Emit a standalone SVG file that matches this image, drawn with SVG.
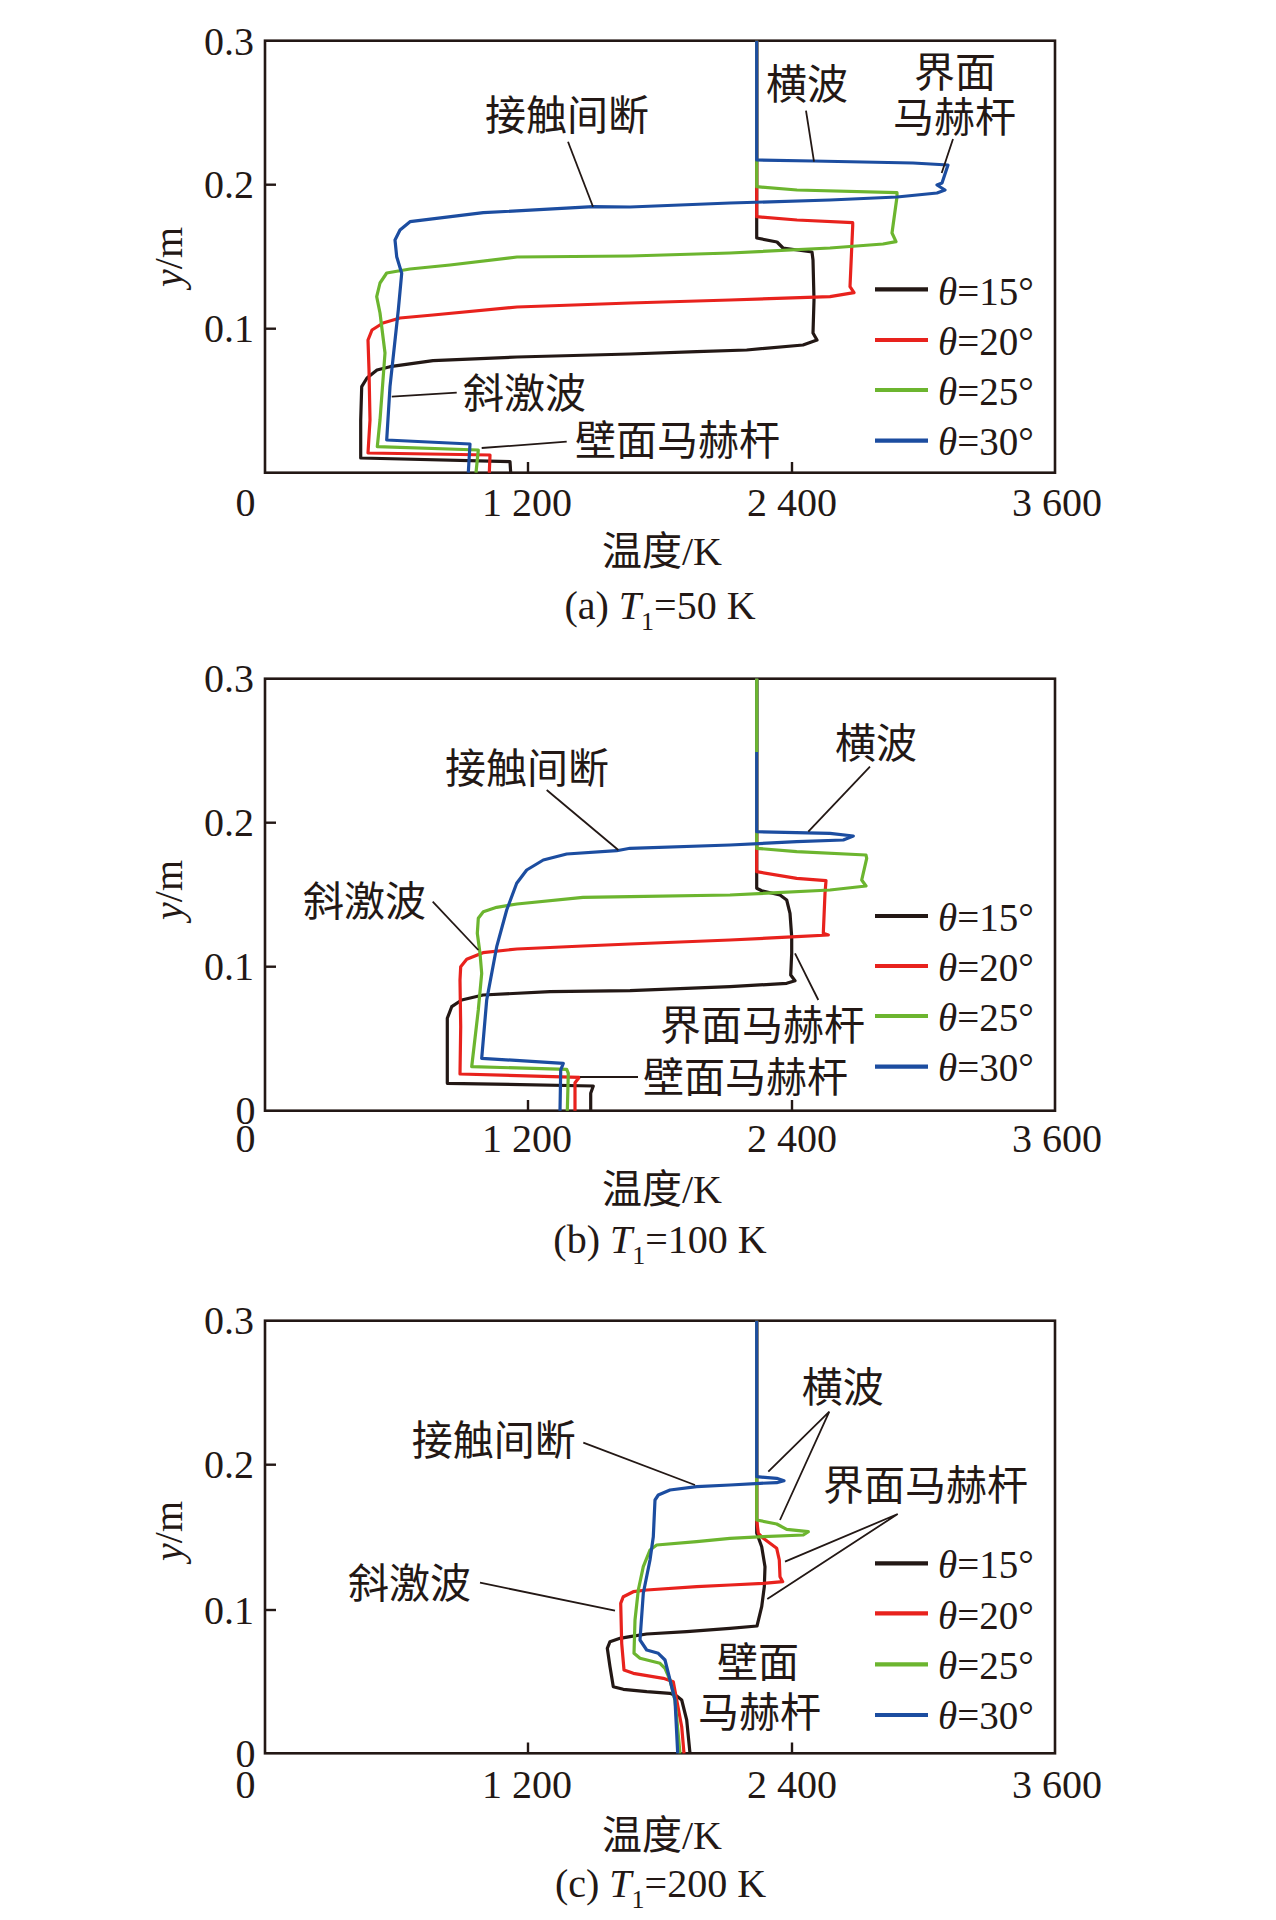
<svg xmlns="http://www.w3.org/2000/svg" width="1276" height="1920" viewBox="0 0 1276 1920">
<style>
.frame{fill:none;stroke:#231815;stroke-width:2.6}
.tick{stroke:#231815;stroke-width:2.4}
.c{fill:none;stroke-width:3.2;stroke-linejoin:round;stroke-linecap:butt}
.k{stroke:#231815}.r{stroke:#e8221d}.g{stroke:#6cb52f}.b{stroke:#1c4da0}
.lg{stroke-width:4.2}
.lead{fill:none;stroke:#231815;stroke-width:1.8}
.num{font-family:"Liberation Serif",serif;font-size:40px;fill:#231815}
.leg{font-family:"Liberation Serif",serif;font-size:39px;fill:#231815}
.cjk{font-family:"Noto Sans CJK SC",sans-serif;font-size:41px;fill:#231815}
.ax{font-family:"Liberation Serif","Noto Sans CJK SC",serif;font-size:40px;fill:#231815}
</style>
<rect width="1276" height="1920" fill="#ffffff"/>

<!-- ================= Panel (a) ================= -->
<g id="panel-a">
  <g id="a-axes">
    <rect class="frame" x="265" y="40.7" width="790" height="432"/>
    <line class="tick" x1="265" y1="184.7" x2="276" y2="184.7"/>
    <line class="tick" x1="265" y1="328.7" x2="276" y2="328.7"/>
    <line class="tick" x1="528" y1="472.7" x2="528" y2="462"/>
    <line class="tick" x1="792" y1="472.7" x2="792" y2="462"/>
    <text class="num" x="254" y="54.5" text-anchor="end">0.3</text>
    <text class="num" x="254" y="198.2" text-anchor="end">0.2</text>
    <text class="num" x="254" y="342.2" text-anchor="end">0.1</text>
    <text class="num" x="245.6" y="516" text-anchor="middle">0</text>
    <text class="num" x="527" y="516" text-anchor="middle">1 200</text>
    <text class="num" x="792" y="516" text-anchor="middle">2 400</text>
    <text class="num" x="1057" y="516" text-anchor="middle">3 600</text>
    <text class="ax" x="662" y="565" text-anchor="middle">温度/K</text>
    <text class="ax" transform="translate(182,257) rotate(-90)" text-anchor="middle"><tspan font-style="italic">y</tspan>/m</text>
    <text class="ax" x="660" y="619" text-anchor="middle">(a) <tspan font-style="italic">T</tspan><tspan font-size="26" dy="11">1</tspan><tspan dy="-11">=50 K</tspan></text>
  </g>
  <g id="a-curves">
    <polyline class="c k" points="756.7,40.7 756.7,238 777,242 783,248 812,252 813,260 814,300 813,333 817,340 803,345 746.7,350 696.7,351.7 630,354 517,357 433,360.7 390,366.7 377,370 367,378 361.7,386.7 360.7,420 360.7,458 510,461.7 510.7,472.7"/>
    <polyline class="c r" points="756.7,40.7 756.7,216.7 797,220 852.7,222.7 852.7,226 850,286.7 854,292.7 830,296.7 730,300 630,303 517,307 433,315 400,318 383,323 372,330 368,340 369,370 370,420 368,453 490,455 489.3,472.7"/>
    <polyline class="c g" points="756.7,40.7 756.7,186.7 797,190 897,192.7 897,196.7 892,233 896,241.7 883,244 830,248 730,253 630,256 517,257 450,265 410,269 386.7,273 380,283 376.7,296.7 380,313 385,353 380,420 377.3,446.7 478.3,450 476,472.7"/>
    <polyline class="c b" points="756.7,40.7 756.7,160 813,161 913,163 948,165 942,183 937,185 945,190 937,193 897,197 830,200 730,203 630,207 593,206.7 483.3,212.7 410,221.7 400,230 395,240 396.7,256.7 401.7,273.3 398.3,310 390,386.7 386.7,440 470,444 468.3,472.7"/>
  </g>
  <g id="a-legend">
    <line class="c k lg" x1="875" y1="289.3" x2="928" y2="289.3"/>
    <line class="c r lg" x1="875" y1="340" x2="928" y2="340"/>
    <line class="c g lg" x1="875" y1="390" x2="928" y2="390"/>
    <line class="c b lg" x1="875" y1="440.7" x2="928" y2="440.7"/>
    <text class="leg" x="938" y="305"><tspan font-style="italic">θ</tspan>=15°</text>
    <text class="leg" x="938" y="355"><tspan font-style="italic">θ</tspan>=20°</text>
    <text class="leg" x="938" y="405"><tspan font-style="italic">θ</tspan>=25°</text>
    <text class="leg" x="938" y="455"><tspan font-style="italic">θ</tspan>=30°</text>
  </g>
  <g id="a-labels">
    <text class="cjk" x="485" y="130">接触间断</text>
    <text class="cjk" x="463" y="408">斜激波</text>
    <text class="cjk" x="575" y="455">壁面马赫杆</text>
    <text class="cjk" x="766" y="99">横波</text>
    <text class="cjk" x="914" y="87">界面</text>
    <text class="cjk" x="893" y="131.5">马赫杆</text>
  </g>
  <g id="a-leaders">
    <line class="lead" x1="568" y1="141.7" x2="593" y2="206.7"/>
    <line class="lead" x1="391.7" y1="396.7" x2="456.7" y2="392.7"/>
    <line class="lead" x1="481.7" y1="448" x2="566.7" y2="441.7"/>
    <line class="lead" x1="806" y1="110.7" x2="814" y2="161.7"/>
    <line class="lead" x1="953" y1="139" x2="941.7" y2="173"/>
  </g>
</g>

<!-- ================= Panel (b) ================= -->
<g id="panel-b">
  <g id="b-axes">
    <rect class="frame" x="265" y="678.7" width="790" height="432"/>
    <line class="tick" x1="265" y1="822.7" x2="276" y2="822.7"/>
    <line class="tick" x1="265" y1="966.7" x2="276" y2="966.7"/>
    <line class="tick" x1="528" y1="1110.7" x2="528" y2="1100"/>
    <line class="tick" x1="792" y1="1110.7" x2="792" y2="1100"/>
    <text class="num" x="254" y="692.2" text-anchor="end">0.3</text>
    <text class="num" x="254" y="836.2" text-anchor="end">0.2</text>
    <text class="num" x="254" y="980.2" text-anchor="end">0.1</text>
    <text class="num" x="245.6" y="1123.5" text-anchor="middle">0</text>
    <text class="num" x="245.6" y="1152" text-anchor="middle">0</text>
    <text class="num" x="527" y="1152" text-anchor="middle">1 200</text>
    <text class="num" x="792" y="1152" text-anchor="middle">2 400</text>
    <text class="num" x="1057" y="1152" text-anchor="middle">3 600</text>
    <text class="ax" x="662" y="1203" text-anchor="middle">温度/K</text>
    <text class="ax" transform="translate(182,890) rotate(-90)" text-anchor="middle"><tspan font-style="italic">y</tspan>/m</text>
    <text class="ax" x="660" y="1253" text-anchor="middle">(b) <tspan font-style="italic">T</tspan><tspan font-size="26" dy="11">1</tspan><tspan dy="-11">=100 K</tspan></text>
  </g>
  <g id="b-curves">
    <polyline class="c k" points="756.7,678.7 756.7,888.3 761.7,890.7 780,895 786.7,900 790,913.3 791.7,936.7 791.7,953.3 790.7,975 795,980.7 786.7,983.3 730,986.7 630,990.7 550,991.7 483,995 461.7,1000 451.7,1006.7 447.3,1018.3 447.3,1083.3 593.3,1086 590.7,1093.3 590.7,1110.7"/>
    <polyline class="c r" points="756.7,678.7 756.7,871.7 796.7,878.3 826,880.7 825,893.3 823.3,933.3 828.3,935 796.7,936.7 730,940 630,944 583,946 517,949 483,952.7 466.7,959.3 460.7,966.7 460,980 460.7,1026.7 460,1074 579.3,1077.3 575,1082.7 575,1110.7"/>
    <polyline class="c g" points="756.7,678.7 756.7,848.3 796.7,851.7 866,855 866.7,858.3 861.7,880 866,886 830,890 730,895 630,896.7 583,897.3 517,904 496.7,907.3 483.3,911.7 478.3,918.3 477.3,933.3 480,953.3 481.7,973.3 478.3,1010 471.7,1066.7 566.7,1069.3 568.3,1073.3 567.3,1110.7"/>
    <polyline class="c b" points="756.7,678.7 756.7,831.7 830,833.3 853.3,836 843.3,840 796.7,841.7 730,845 630,848.3 616.7,850.7 566.7,854 543.3,860 526.7,870 516.7,883.3 506.7,910 496.7,946.7 486.7,1000 481.7,1058.3 563.3,1063.3 560.7,1070 560,1110.7"/>
    <line class="c g" x1="756.7" y1="678.7" x2="756.7" y2="752"/>
  </g>
  <g id="b-legend">
    <line class="c k lg" x1="875" y1="916" x2="928" y2="916"/>
    <line class="c r lg" x1="875" y1="966" x2="928" y2="966"/>
    <line class="c g lg" x1="875" y1="1016" x2="928" y2="1016"/>
    <line class="c b lg" x1="875" y1="1066.7" x2="928" y2="1066.7"/>
    <text class="leg" x="938" y="931"><tspan font-style="italic">θ</tspan>=15°</text>
    <text class="leg" x="938" y="981"><tspan font-style="italic">θ</tspan>=20°</text>
    <text class="leg" x="938" y="1031"><tspan font-style="italic">θ</tspan>=25°</text>
    <text class="leg" x="938" y="1081"><tspan font-style="italic">θ</tspan>=30°</text>
  </g>
  <g id="b-labels">
    <text class="cjk" x="445" y="783">接触间断</text>
    <text class="cjk" x="303" y="916">斜激波</text>
    <text class="cjk" x="835" y="758">横波</text>
    <text class="cjk" x="660" y="1040">界面马赫杆</text>
    <text class="cjk" x="643" y="1092">壁面马赫杆</text>
  </g>
  <g id="b-leaders">
    <line class="lead" x1="546.7" y1="790" x2="618.3" y2="850"/>
    <line class="lead" x1="432.7" y1="901.7" x2="478.3" y2="950"/>
    <line class="lead" x1="870" y1="766.7" x2="808.3" y2="831.7"/>
    <line class="lead" x1="818.3" y1="1000" x2="795" y2="953.3"/>
    <line class="lead" x1="580" y1="1077" x2="638" y2="1077"/>
  </g>
</g>

<!-- ================= Panel (c) ================= -->
<g id="panel-c">
  <g id="c-axes">
    <rect class="frame" x="265" y="1320.7" width="790" height="432.6"/>
    <line class="tick" x1="265" y1="1464.7" x2="276" y2="1464.7"/>
    <line class="tick" x1="265" y1="1610" x2="276" y2="1610"/>
    <line class="tick" x1="528" y1="1753.3" x2="528" y2="1742.5"/>
    <line class="tick" x1="792" y1="1753.3" x2="792" y2="1742.5"/>
    <text class="num" x="254" y="1334.2" text-anchor="end">0.3</text>
    <text class="num" x="254" y="1478.2" text-anchor="end">0.2</text>
    <text class="num" x="254" y="1623.5" text-anchor="end">0.1</text>
    <text class="num" x="245.6" y="1767" text-anchor="middle">0</text>
    <text class="num" x="245.6" y="1798" text-anchor="middle">0</text>
    <text class="num" x="527" y="1798" text-anchor="middle">1 200</text>
    <text class="num" x="792" y="1798" text-anchor="middle">2 400</text>
    <text class="num" x="1057" y="1798" text-anchor="middle">3 600</text>
    <text class="ax" x="662" y="1849" text-anchor="middle">温度/K</text>
    <text class="ax" transform="translate(182,1531) rotate(-90)" text-anchor="middle"><tspan font-style="italic">y</tspan>/m</text>
    <text class="ax" x="660.5" y="1897" text-anchor="middle">(c) <tspan font-style="italic">T</tspan><tspan font-size="26" dy="11">1</tspan><tspan dy="-11">=200 K</tspan></text>
  </g>
  <g id="c-curves">
    <polyline class="c k" points="756.7,1320.7 756.7,1533 761.7,1546.7 765,1566.7 764.3,1586.7 761.7,1606.7 757,1626 730,1628.3 686.7,1631.7 646.7,1634 630,1636.7 620,1638.3 610,1641.7 607.3,1648.3 610,1666.7 613.3,1686.7 623.3,1689.3 646.7,1691.7 670,1693.3 676.7,1696 681.7,1700 686.7,1720 690,1753.3"/>
    <polyline class="c r" points="756.7,1320.7 756.7,1520 758.3,1533.3 763.3,1538.3 776.7,1548.3 779.3,1560 780,1576.7 782.7,1581.7 763.3,1583.3 730,1585 696.7,1586.7 646.7,1590 633.3,1591.7 623.3,1596.7 620.7,1603.3 621.7,1643.3 624,1670 633.3,1673.3 663.3,1678.3 673.3,1681.7 676.7,1700 681.7,1726.7 684,1753.3"/>
    <polyline class="c g" points="756.7,1320.7 756.7,1520 776.7,1524 786.7,1529.3 808.3,1531.7 803.3,1535 763.3,1536.7 730,1538.3 696.7,1541.7 656.7,1545 650,1550 643.3,1566.7 638.3,1590 635,1620 634,1653.3 640,1658.3 660,1663.3 665,1668.3 670,1680 675,1700 680,1753.3"/>
    <polyline class="c b" points="756.7,1320.7 756.7,1476.7 776.7,1478.3 784,1480.7 776.7,1482.7 760,1483.3 730,1485 696.7,1486.7 670,1490 658.3,1495 655,1500 653.3,1536.7 650,1560 643.3,1593.3 640,1640 646.7,1650 658.3,1653.3 665,1660 670,1680 675,1700 677.7,1753.3"/>
  </g>
  <g id="c-legend">
    <line class="c k lg" x1="875" y1="1563.3" x2="928" y2="1563.3"/>
    <line class="c r lg" x1="875" y1="1613.3" x2="928" y2="1613.3"/>
    <line class="c g lg" x1="875" y1="1664.3" x2="928" y2="1664.3"/>
    <line class="c b lg" x1="875" y1="1715" x2="928" y2="1715"/>
    <text class="leg" x="938" y="1578"><tspan font-style="italic">θ</tspan>=15°</text>
    <text class="leg" x="938" y="1629"><tspan font-style="italic">θ</tspan>=20°</text>
    <text class="leg" x="938" y="1679"><tspan font-style="italic">θ</tspan>=25°</text>
    <text class="leg" x="938" y="1729"><tspan font-style="italic">θ</tspan>=30°</text>
  </g>
  <g id="c-labels">
    <text class="cjk" x="411.7" y="1455">接触间断</text>
    <text class="cjk" x="348" y="1598">斜激波</text>
    <text class="cjk" x="801.7" y="1402">横波</text>
    <text class="cjk" x="823" y="1500">界面马赫杆</text>
    <text class="cjk" x="717" y="1677">壁面</text>
    <text class="cjk" x="698" y="1727">马赫杆</text>
  </g>
  <g id="c-leaders">
    <line class="lead" x1="583.3" y1="1442.7" x2="695" y2="1485"/>
    <line class="lead" x1="480" y1="1582.7" x2="615" y2="1610.7"/>
    <polyline class="lead" points="768.3,1471.7 829.3,1411.7 780,1520"/>
    <polyline class="lead" points="785,1561.7 897.7,1514 767.3,1599"/>
  </g>
</g>
</svg>
